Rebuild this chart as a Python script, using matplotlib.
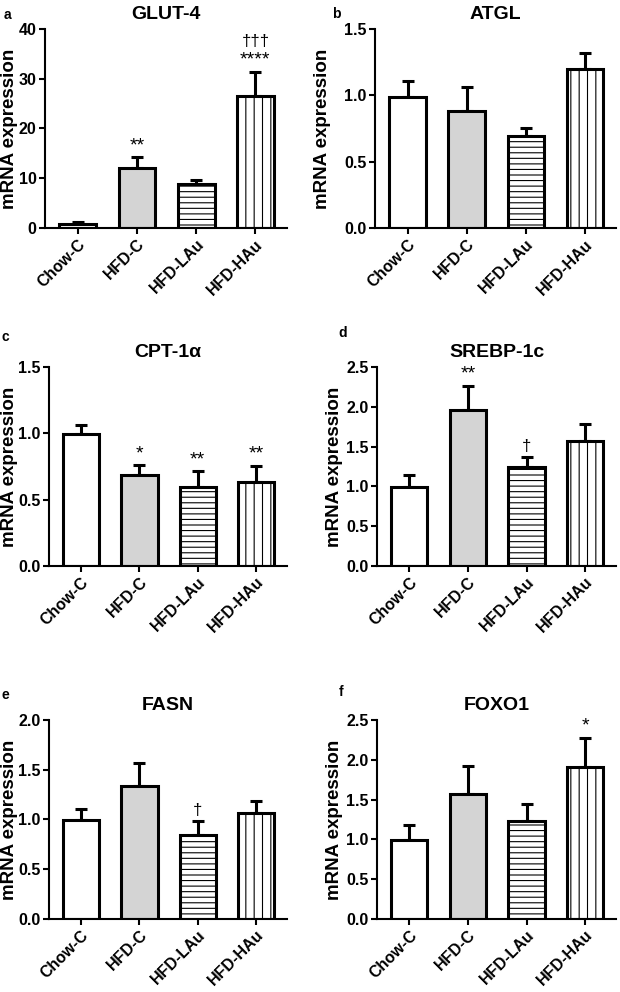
import matplotlib
matplotlib.use('Agg')
import matplotlib.pyplot as plt

plt.rcParams['font.family'] = ['Liberation Sans', 'DejaVu Sans']
plt.rcParams['hatch.linewidth'] = 0.8

groups = ['Chow-C', 'HFD-C', 'HFD-LAu', 'HFD-HAu']

## means and upper error (mean + SEM)
glut4_mean = [0.8, 12.1, 8.8, 26.5]
glut4_top = [1.2, 14.2, 9.7, 31.4]
atgl_mean = [0.99, 0.885, 0.69, 1.195]
atgl_top = [1.105, 1.063, 0.756, 1.314]
cpt1a_mean = [0.993, 0.685, 0.592, 0.632]
cpt1a_top = [1.066, 0.762, 0.717, 0.757]
srebp_mean = [0.987, 1.965, 1.246, 1.572]
srebp_top = [1.145, 2.266, 1.371, 1.789]
fasn_mean = [0.99, 1.334, 0.846, 1.07]
fasn_top = [1.104, 1.572, 0.983, 1.184]
foxo1_mean = [0.987, 1.572, 1.225, 1.915]
foxo1_top = [1.187, 1.923, 1.446, 2.278]

titles = ['GLUT-4', 'ATGL', 'CPT-1α', 'SREBP-1c', 'FASN', 'FOXO1']
letters = ['a', 'b', 'c', 'd', 'e', 'f']
ymax = [40, 1.5, 1.5, 2.5, 2.0, 2.5]
yticks = [[0, 10, 20, 30, 40],
          [0.0, 0.5, 1.0, 1.5],
          [0.0, 0.5, 1.0, 1.5],
          [0.0, 0.5, 1.0, 1.5, 2.0, 2.5],
          [0.0, 0.5, 1.0, 1.5, 2.0],
          [0.0, 0.5, 1.0, 1.5, 2.0, 2.5]]
ytick_fmt = ['%d', '%.1f', '%.1f', '%.1f', '%.1f', '%.1f']

# significance marks: (bar index, text)
marks = [
    [(1, '**'), (3, '****'), (3, '†††')],
    [],
    [(1, '*'), (2, '**'), (3, '**')],
    [(1, '**'), (2, '†')],
    [(2, '†')],
    [(3, '*')],
]

means = [glut4_mean, atgl_mean, cpt1a_mean, srebp_mean, fasn_mean, foxo1_mean]
tops = [glut4_top, atgl_top, cpt1a_top, srebp_top, fasn_top, foxo1_top]

fills = ['white', '#d4d4d4', 'white', 'white']
hatches = [None, None, '---', '||']

# layout (figure fractions / pixels)
boxes = [
    [0.0726, 0.770, 0.390, 0.201],
    [0.605, 0.770, 0.389, 0.201],
    [0.079, 0.4294, 0.384, 0.2006],
    [0.608, 0.4294, 0.386, 0.2006],
    [0.079, 0.0736, 0.384, 0.2006],
    [0.608, 0.0736, 0.386, 0.2006],
]
ylabel_x = [-0.112, -0.183, -0.130, -0.141, -0.130, -0.141]
letter_px = [(7, 15), (336, 14), (5, 337), (343, 333), (5, 695), (341, 692)]

fig = plt.figure(figsize=(6.2, 9.92), dpi=100)

for i in range(6):
    ax = fig.add_axes(boxes[i])
    x = list(range(len(groups)))
    m = means[i]
    err = [t - v for t, v in zip(tops[i], m)]
    ax.errorbar(x, m, yerr=[[0] * 4, err], fmt='none', ecolor='black',
                elinewidth=2.2, capsize=4, capthick=2.2, zorder=1)
    for j in x:
        ax.bar(j, m[j], width=0.62, color=fills[j], edgecolor='black',
               linewidth=2.2, hatch=hatches[j], zorder=2)
    ax.set_xlim(-0.55, 3.53)
    ax.set_ylim(0, ymax[i])
    ax.set_yticks(yticks[i])
    ax.set_yticklabels([ytick_fmt[i] % v for v in yticks[i]], fontsize=11.5, fontweight='bold')
    ax.set_xticks(x)
    ax.set_xticklabels(groups, rotation=45, ha='right', rotation_mode='anchor',
                       fontsize=11.5, fontweight='bold')
    ax.spines['top'].set_visible(False)
    ax.spines['right'].set_visible(False)
    ax.spines['left'].set_linewidth(1.5)
    ax.spines['bottom'].set_linewidth(1.5)
    ax.tick_params(width=1.5, length=4, pad=2)
    ax.set_ylabel('mRNA expression', fontsize=13.5, fontweight='bold')
    ax.yaxis.set_label_coords(ylabel_x[i], 0.5)
    ax.set_title(titles[i], fontsize=14, fontweight='bold', pad=7)
    fig.text(letter_px[i][0] / 620, 1 - letter_px[i][1] / 992, letters[i],
             fontsize=10, fontweight='bold', ha='center', va='center')

    stacked = {}
    for j, s in marks[i]:
        level = stacked.get(j, 0)
        stacked[j] = level + 1
        fs = 12 if '†' in s else 14
        ax.annotate(s, (j, tops[i][j]), xytext=(0, 2 + 14 * level),
                    textcoords='offset points', ha='center', va='bottom',
                    fontsize=fs, zorder=3)

plt.savefig('out.png', dpi=100)
